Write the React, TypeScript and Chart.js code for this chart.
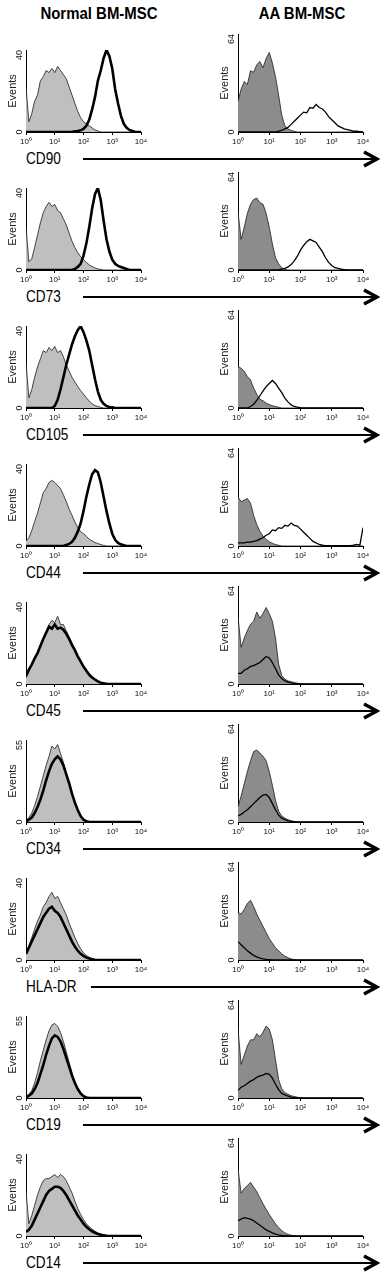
import React, { useEffect, useRef } from 'react';
import { Chart, registerables } from 'chart.js';

Chart.register(...registerables);

// ---------- data ----------
const logIntensity = [
  0, 0.1, 0.2, 0.3, 0.4, 0.5, 0.6, 0.7, 0.8, 0.9,
  1, 1.1, 1.2, 1.3, 1.4, 1.5, 1.6, 1.7, 1.8, 1.9,
  2, 2.1, 2.2, 2.3, 2.4, 2.5, 2.6, 2.7, 2.8, 2.9,
  3, 3.1, 3.2, 3.3, 3.4, 3.5, 3.6, 3.7, 3.8, 3.9,
  4,
];
const xTickLabels = ['10⁰', '10¹', '10²', '10³', '10⁴'];
const groupTitles = ['Normal BM-MSC', 'AA BM-MSC'];
const markers = ['CD90', 'CD73', 'CD105', 'CD44', 'CD45', 'CD34', 'HLA-DR', 'CD19', 'CD14'];
const normalYMax = [40, 40, 40, 40, 40, 55, 40, 55, 40];
const aaYMax = [64, 64, 64, 64, 64, 64, 64, 64, 64];
const yAxisTitle = 'Events';

// CD90
const cd90NormalIso = [
  22, 5, 9, 15, 18, 25, 27, 30, 29, 31,
  29, 32, 30, 28, 26, 22, 18, 14, 10, 7,
  5, 4, 3, 2, 1, 0.5, 0, 0, 0, 0,
  0, 0, 0, 0, 0, 0, 0, 0, 0, 0,
  0,
];
const cd90NormalAb = [
  0, 0, 0, 0, 0, 0, 0, 0, 0, 0,
  0, 0, 0, 0, 0, 0, 0, 0.3, 0.5, 0.8,
  1.5, 3, 6, 11, 17, 25, 30, 36, 40, 37,
  31, 21, 14, 8, 4, 2, 1, 0.5, 0, 0,
  0,
];
const cd90AaIso = [
  20, 28, 33, 31, 40, 39, 44, 46, 42, 48,
  52, 45, 36, 24, 11, 4, 2, 1, 0.5, 0,
  0, 0, 0, 0, 0, 0, 0, 0, 0, 0,
  0, 0, 0, 0, 0, 0, 0, 0, 0, 0,
  0,
];
const cd90AaAb = [
  0, 0, 0, 0, 0, 0, 0, 0, 0, 0,
  0, 0, 0, 0.5, 1, 2, 3, 5, 7, 9,
  11, 13, 12.5, 16, 15.5, 18, 16, 15, 13, 10,
  8, 6, 4, 3, 2, 1.5, 1, 0.5, 0.5, 0.3,
  0,
];
// CD73
const cd73NormalIso = [
  21, 4, 5.5, 11, 17, 23, 28, 31, 33, 31,
  32, 29, 28, 25, 22, 18, 14, 11, 8.5, 6.5,
  5, 3.7, 2.5, 1.7, 1, 0.5, 0.3, 0, 0, 0,
  0, 0, 0, 0, 0, 0, 0, 0, 0, 0,
  0,
];
const cd73NormalAb = [
  0, 0, 0, 0, 0, 0, 0, 0, 0, 0,
  0, 0, 0, 0, 0, 0, 0, 0.5, 1.5, 3,
  7, 13, 21, 30, 37, 40, 34, 24, 15, 9,
  5, 3, 2, 1.5, 1, 0.5, 0, 0, 0, 0,
  0,
];
const cd73AaIso = [
  38, 20, 28, 37, 43, 46, 47, 44, 43, 37,
  28, 17, 8, 4, 1.5, 0.5, 0, 0, 0, 0,
  0, 0, 0, 0, 0, 0, 0, 0, 0, 0,
  0, 0, 0, 0, 0, 0, 0, 0, 0, 0,
  0,
];
const cd73AaAb = [
  0, 0, 0, 0, 0, 0, 0, 0, 0, 0,
  0, 0, 0, 0, 0.5, 1, 2, 3.5, 6, 9,
  13, 16, 18.5, 20, 19, 18, 15, 12, 8, 5,
  3, 1.5, 1, 0.5, 0.3, 0, 0, 0, 0, 0,
  0,
];
// CD105
const cd105NormalIso = [
  22, 5, 9, 15, 20, 24, 28, 27, 29.5, 28,
  30, 27, 28, 25, 21, 18, 15, 12.7, 10.5, 8.5,
  6.8, 5, 3.4, 2, 1.2, 0.7, 0.3, 0, 0, 0,
  0, 0, 0, 0, 0, 0, 0, 0, 0, 0,
  0,
];
const cd105NormalAb = [
  0, 0, 0, 0, 0, 0, 0, 0, 0, 0,
  1, 4, 9, 15, 21, 26, 31, 35, 38, 40,
  37, 33, 28, 21, 14, 8, 4, 2, 1, 0.5,
  0.3, 0, 0, 0, 0, 0, 0, 0, 0, 0,
  0,
];
const cd105AaIso = [
  27, 26, 24, 20.5, 18.4, 13, 9, 5.7, 4.7, 3.2,
  2.3, 1.5, 1, 0.5, 0, 0, 0, 0, 0, 0,
  0, 0, 0, 0, 0, 0, 0, 0, 0, 0,
  0, 0, 0, 0, 0, 0, 0, 0, 0, 0,
  0,
];
const cd105AaAb = [
  0, 0, 0, 0, 1, 2.5, 5, 8, 11, 14,
  16, 18, 16, 13, 10, 6.5, 4, 2, 1, 0.5,
  0.2, 0, 0, 0, 0, 0, 0, 0, 0, 0,
  0, 0, 0, 0, 0, 0, 0, 0, 0, 0,
  0,
];
// CD44
const cd44NormalIso = [
  2.5, 4, 7.5, 12, 16, 21, 26, 28, 31, 32,
  31, 29.5, 28, 25, 21.7, 18, 15, 11.7, 9, 7,
  6, 4.7, 3.3, 2.5, 1.7, 1.2, 0.7, 0.3, 0, 0,
  0, 0, 0, 0, 0, 0, 0, 0, 0, 0,
  0,
];
const cd44NormalAb = [
  0, 0, 0, 0, 0, 0, 0, 0, 0, 0,
  0, 0, 0, 0, 0.5, 1, 2, 4, 7, 11,
  17, 24, 30, 35, 37, 36, 31, 24, 17, 11,
  6, 3, 1.5, 0.8, 0.4, 0, 0, 0, 0, 0,
  0,
];
const cd44AaIso = [
  32, 29, 30, 31, 28, 20, 14, 9.6, 6.4, 4.3,
  2.8, 1.7, 1, 0.5, 0, 0, 0, 0, 0, 0,
  0, 0, 0, 0, 0, 0, 0, 0, 0, 0,
  0, 0, 0, 0, 0, 0, 0, 0, 0, 0,
  0,
];
const cd44AaAb = [
  2, 2, 2, 2.5, 2.5, 3, 3.5, 4.5, 5.5, 7,
  8, 10.5, 10, 12, 11.5, 13.5, 13, 15, 13.5, 13,
  11, 9, 7, 5, 3, 2, 1, 0.5, 0.3, 0.3,
  0.3, 0.3, 0.3, 0.3, 0.3, 0.3, 0.3, 0.5, 1, 0.5,
  12,
];
// CD45
const cd45NormalIso = [
  3, 6, 9, 12, 15.5, 19, 22, 25, 29, 31,
  30, 33, 29, 29, 26, 23, 20, 17, 13.5, 10.5,
  8, 6, 4, 2.8, 1.8, 1, 0.5, 0.2, 0, 0,
  0, 0, 0, 0, 0, 0, 0, 0, 0, 0,
  0,
];
const cd45NormalAb = [
  4, 7, 9.5, 12.5, 15, 18.5, 22, 25, 28, 27,
  29, 27, 27.5, 26.5, 24.5, 22, 19, 16.5, 13.5, 11,
  8.5, 6.5, 4.5, 3.2, 2.2, 1.3, 0.6, 0.3, 0.1, 0,
  0, 0, 0, 0, 0, 0, 0, 0, 0, 0,
  0,
];
const cd45AaIso = [
  44, 24, 30, 35, 39, 41, 47, 43, 46, 50,
  46, 41, 30, 13, 5.4, 3.2, 2, 1.5, 1, 0.5,
  0.3, 0, 0, 0, 0, 0, 0, 0, 0, 0,
  0, 0, 0, 0, 0, 0, 0, 0, 0, 0,
  0,
];
const cd45AaAb = [
  7, 7, 9, 10, 11.5, 12, 13, 14, 16, 18,
  17, 14, 10, 6, 3.5, 2, 1.2, 0.7, 0.4, 0.2,
  0, 0, 0, 0, 0, 0, 0, 0, 0, 0,
  0, 0, 0, 0, 0, 0, 0, 0, 0, 0,
  0,
];
// CD34
const cd34NormalIso = [
  1, 3, 6, 11, 17, 24, 31, 38, 44, 51,
  49, 52, 46, 40, 33, 26, 19, 13, 8, 4,
  1.5, 0.5, 0, 0, 0, 0, 0, 0, 0, 0,
  0, 0, 0, 0, 0, 0, 0, 0, 0, 0,
  0,
];
const cd34NormalAb = [
  0.5, 1.5, 3, 6, 10, 15, 21, 28, 34, 39,
  42, 44, 42, 38, 32, 26, 19, 13, 8, 4,
  1.5, 0.5, 0, 0, 0, 0, 0, 0, 0, 0,
  0, 0, 0, 0, 0, 0, 0, 0, 0, 0,
  0,
];
const cd34AaIso = [
  10, 17, 25, 33, 40, 46, 47, 45, 43, 40,
  33, 24, 14, 7, 4, 2.5, 1.5, 0.8, 0.4, 0.2,
  0, 0, 0, 0, 0, 0, 0, 0, 0, 0,
  0, 0, 0, 0, 0, 0, 0, 0, 0, 0,
  0,
];
const cd34AaAb = [
  4, 5, 6.5, 8, 10, 12, 14, 16, 17.5, 18,
  16, 12, 8, 4.5, 2.5, 1.5, 0.8, 0.4, 0.2, 0,
  0, 0, 0, 0, 0, 0, 0, 0, 0, 0,
  0, 0, 0, 0, 0, 0, 0, 0, 0, 0,
  0,
];
// HLA-DR
const hladrNormalIso = [
  3, 7, 11, 15, 19, 22, 26, 28, 31, 33,
  30, 31, 28, 25, 22, 18, 14.5, 11, 8, 5.5,
  3.5, 2.2, 1.3, 0.7, 0.3, 0, 0, 0, 0, 0,
  0, 0, 0, 0, 0, 0, 0, 0, 0, 0,
  0,
];
const hladrNormalAb = [
  3, 6, 9, 12, 15, 18, 21, 23, 25, 26,
  24, 23, 21, 18, 15, 12, 9, 6.5, 4.5, 3,
  2, 1.2, 0.7, 0.3, 0, 0, 0, 0, 0, 0,
  0, 0, 0, 0, 0, 0, 0, 0, 0, 0,
  0,
];
const hladrAaIso = [
  31, 30, 33, 37, 39, 35, 30, 26, 22, 18,
  14, 11, 8, 6, 4, 2.5, 1.5, 0.7, 0.3, 0,
  0, 0, 0, 0, 0, 0, 0, 0, 0, 0,
  0, 0, 0, 0, 0, 0, 0, 0, 0, 0,
  0,
];
const hladrAaAb = [
  12, 10, 8, 6, 4.5, 3, 2, 1.2, 0.7, 0.4,
  0.2, 0, 0, 0, 0, 0, 0, 0, 0, 0,
  0, 0, 0, 0, 0, 0, 0, 0, 0, 0,
  0, 0, 0, 0, 0, 0, 0, 0, 0, 0,
  0,
];
// CD19
const cd19NormalIso = [
  1, 2.5, 5, 10, 17, 25, 32, 39, 45, 49,
  50, 48, 44, 38, 31, 24, 17, 11, 6.5, 3.5,
  1.5, 0.5, 0, 0, 0, 0, 0, 0, 0, 0,
  0, 0, 0, 0, 0, 0, 0, 0, 0, 0,
  0,
];
const cd19NormalAb = [
  0.5, 1.5, 3, 6, 10, 16, 22, 29, 35, 40,
  42, 41, 38, 33, 27, 21, 15, 10, 6, 3,
  1.2, 0.4, 0, 0, 0, 0, 0, 0, 0, 0,
  0, 0, 0, 0, 0, 0, 0, 0, 0, 0,
  0,
];
const cd19AaIso = [
  45, 22, 28, 34, 38, 38, 42, 40, 43, 47,
  45, 38, 25, 12, 6, 3.5, 2.5, 1.5, 1, 0.5,
  0.3, 0, 0, 0, 0, 0, 0, 0, 0, 0,
  0, 0, 0, 0, 0, 0, 0, 0, 0, 0,
  0,
];
const cd19AaAb = [
  5, 7, 8, 9.5, 11, 12, 13.5, 14.5, 15, 16,
  15.5, 13, 9, 5.5, 3, 2, 1.2, 0.6, 0.3, 0,
  0, 0, 0, 0, 0, 0, 0, 0, 0, 0,
  0, 0, 0, 0, 0, 0, 0, 0, 0, 0,
  0,
];
// CD14
const cd14NormalIso = [
  22, 6, 10, 15, 20, 24, 27, 28, 28, 29,
  30, 28.5, 30, 29, 27, 24, 21, 17, 13.5, 10.5,
  8, 6, 4.5, 3.3, 2.3, 1.5, 1, 0.6, 0.3, 0.2,
  0, 0, 0, 0, 0, 0, 0, 0, 0, 0,
  0,
];
const cd14NormalAb = [
  2, 3, 5, 8, 11, 14, 17, 20, 22, 23,
  24, 24, 23.5, 22, 20, 17.5, 15, 12.5, 10, 8,
  6, 4.5, 3.3, 2.3, 1.6, 1, 0.6, 0.3, 0.1, 0,
  0, 0, 0, 0, 0, 0, 0, 0, 0, 0,
  0,
];
const cd14AaIso = [
  44, 28, 31, 33, 35, 32, 29, 25, 21, 17.5,
  14, 11, 8, 5.5, 3.5, 2, 1, 0.5, 0.2, 0,
  0, 0, 0, 0, 0, 0, 0, 0, 0, 0,
  0, 0, 0, 0, 0, 0, 0, 0, 0, 0,
  0,
];
const cd14AaAb = [
  10, 11, 12, 11.5, 11, 10, 8.5, 7, 5.5, 4,
  3, 2, 1.3, 0.8, 0.4, 0.2, 0, 0, 0, 0,
  0, 0, 0, 0, 0, 0, 0, 0, 0, 0,
  0, 0, 0, 0, 0, 0, 0, 0, 0, 0,
  0,
];

const normalIso = [cd90NormalIso, cd73NormalIso, cd105NormalIso, cd44NormalIso, cd45NormalIso, cd34NormalIso, hladrNormalIso, cd19NormalIso, cd14NormalIso];
const normalAb = [cd90NormalAb, cd73NormalAb, cd105NormalAb, cd44NormalAb, cd45NormalAb, cd34NormalAb, hladrNormalAb, cd19NormalAb, cd14NormalAb];
const aaIso = [cd90AaIso, cd73AaIso, cd105AaIso, cd44AaIso, cd45AaIso, cd34AaIso, hladrAaIso, cd19AaIso, cd14AaIso];
const aaAb = [cd90AaAb, cd73AaAb, cd105AaAb, cd44AaAb, cd45AaAb, cd34AaAb, hladrAaAb, cd19AaAb, cd14AaAb];

// ---------- styling ----------
const SANS = '"Liberation Sans", Arial, sans-serif';

const yEndLabels = {
  id: 'yEndLabels',
  afterDraw(chart: any) {
    const { ctx, chartArea, scales } = chart;
    const y = scales.y;
    const x = chartArea.left - 6.5;
    ctx.save();
    ctx.fillStyle = '#111';
    ctx.font = `9px ${SANS}`;
    ctx.translate(x, y.getPixelForValue(y.max));
    ctx.rotate(-Math.PI / 2);
    ctx.textAlign = 'right';
    ctx.textBaseline = 'middle';
    ctx.fillText(String(y.max), 0, 0);
    ctx.restore();
    ctx.save();
    ctx.fillStyle = '#111';
    ctx.font = `9px ${SANS}`;
    ctx.translate(x, y.getPixelForValue(0));
    ctx.rotate(-Math.PI / 2);
    ctx.textAlign = 'center';
    ctx.textBaseline = 'middle';
    ctx.fillText('0', 0, 0);
    ctx.restore();
  },
};

type HistProps = {
  iso: number[];
  ab: number[];
  yMax: number;
  normal: boolean;
  left: number;
  top: number;
  width: number;
  height: number;
  padRight: number;
};

function Histogram({ iso, ab, yMax, normal, left, top, width, height, padRight }: HistProps) {
  const ref = useRef<HTMLCanvasElement>(null);
  useEffect(() => {
    const chart = new Chart(ref.current as HTMLCanvasElement, {
      type: 'line',
      data: {
        datasets: [
          {
            data: ab.map((v, i) => ({ x: logIntensity[i], y: v })),
            borderColor: '#000',
            borderWidth: normal ? 2.6 : 1.3,
            fill: false,
            pointRadius: 0,
            tension: 0,
            order: 0,
          },
          {
            data: iso.map((v, i) => ({ x: logIntensity[i], y: v })),
            borderColor: '#1c1c1c',
            borderWidth: 0.8,
            backgroundColor: normal ? '#bfbfbf' : '#8c8c8c',
            fill: 'origin',
            pointRadius: 0,
            tension: 0,
            order: 1,
          },
        ],
      } as any,
      options: {
        animation: false,
        responsive: false,
        maintainAspectRatio: false,
        layout: { padding: { left: 0, top: 8, right: padRight, bottom: 0 } },
        plugins: { legend: { display: false }, tooltip: { enabled: false } },
        scales: {
          x: {
            type: 'linear',
            min: 0,
            max: 4,
            ticks: {
              stepSize: 1,
              autoSkip: false,
              maxRotation: 0,
              padding: 2,
              color: '#111',
              font: { size: 8, family: SANS },
              callback: (v: any) => xTickLabels[Number(v)],
            },
            grid: { display: true, drawOnChartArea: false, tickLength: 3, color: '#000' },
            border: { display: true, color: '#000', width: 1 },
            afterFit: (s: any) => {
              s.height = 14;
            },
          },
          y: {
            min: 0,
            max: yMax,
            ticks: { display: false },
            grid: { display: false },
            border: { display: true, color: '#000', width: 1 },
            title: {
              display: true,
              text: yAxisTitle,
              color: '#222',
              font: { size: 11, family: SANS },
              padding: { top: 6, bottom: 0 },
            },
            afterFit: (s: any) => {
              s.width = 26;
            },
          },
        },
      } as any,
      plugins: [yEndLabels],
    });
    return () => chart.destroy();
  }, [iso, ab, yMax, normal]);
  return (
    <canvas
      ref={ref}
      width={width}
      height={height}
      style={{ position: 'absolute', left, top, width, height }}
    />
  );
}

const titleStyle = (center: number): React.CSSProperties => ({
  position: 'absolute',
  left: center - 90,
  top: 4,
  width: 180,
  textAlign: 'center',
  font: `bold 17px ${SANS}`,
  lineHeight: '20px',
  whiteSpace: 'nowrap',
  transform: 'scaleX(0.88)',
  transformOrigin: 'center',
});

export default function App() {
  return (
    <div
      style={{
        position: 'absolute',
        left: 0,
        top: 0,
        width: 386,
        height: 1280,
        background: '#fff',
        overflow: 'hidden',
        color: '#000',
      }}
    >
      <div style={titleStyle(99)}>{groupTitles[0]}</div>
      <div style={titleStyle(302)}>{groupTitles[1]}</div>
      {markers.map((m, i) => {
        const ay = 159 + 138 * i;
        return (
          <React.Fragment key={m}>
            <Histogram
              iso={normalIso[i]}
              ab={normalAb[i]}
              yMax={normalYMax[i]}
              normal={true}
              left={0}
              top={ay - 117}
              width={150}
              height={104}
              padRight={9}
            />
            <Histogram
              iso={aaIso[i]}
              ab={aaAb[i]}
              yMax={aaYMax[i]}
              normal={false}
              left={212}
              top={ay - 133}
              width={161}
              height={120}
              padRight={10}
            />
            <div
              style={{
                position: 'absolute',
                left: 26,
                top: ay - 11,
                width: 354,
                height: 22,
                display: 'flex',
                alignItems: 'center',
              }}
            >
              <span
                style={{
                  display: 'inline-block',
                  font: `16px ${SANS}`,
                  minWidth: 52,
                  marginRight: 5,
                  whiteSpace: 'nowrap',
                  lineHeight: '22px',
                }}
              >
                <span
                  style={{
                    display: 'inline-block',
                    transform: 'scaleX(0.85)',
                    transformOrigin: 'left center',
                  }}
                >
                  {m}
                </span>
              </span>
              <div style={{ flex: 1, position: 'relative', height: 22 }}>
                <div
                  style={{
                    position: 'absolute',
                    left: 0,
                    right: 4,
                    top: 10,
                    height: 2,
                    background: '#000',
                  }}
                />
                <svg
                  width={20}
                  height={22}
                  style={{ position: 'absolute', right: 0, top: 0 }}
                >
                  <polyline
                    points="4,4 17,11 4,18"
                    fill="none"
                    stroke="#000"
                    strokeWidth={3.5}
                    strokeLinejoin="miter"
                  />
                </svg>
              </div>
            </div>
          </React.Fragment>
        );
      })}
    </div>
  );
}
